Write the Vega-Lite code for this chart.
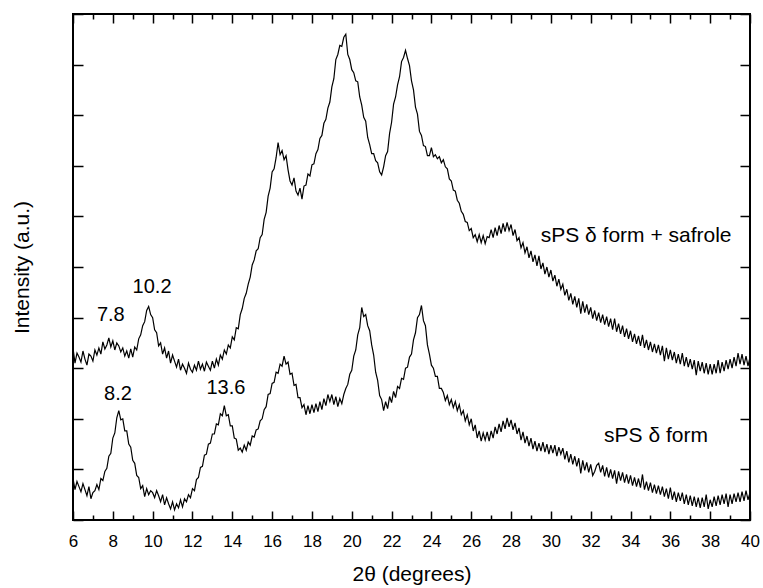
{
"$schema": "https://vega.github.io/schema/vega-lite/v6.json",
"width": 677, "height": 506,
"autosize": "none",
"padding": {"left": 73, "top": 14, "right": 13, "bottom": 68},
"background": "white",
"config": {
  "font": "Liberation Sans",
  "view": {"stroke": "black", "strokeWidth": 2},
  "axis": {"domain": false, "grid": false, "tickColor": "black", "tickWidth": 1.5, "labelColor": "black", "titleColor": "black", "labelFont": "Liberation Sans", "titleFont": "Liberation Sans", "titleFontWeight": "normal"}
},
"data": {"values": [
{"x":6.0,"u":3.40,"l":0.82},{"x":6.1,"u":3.10,"l":0.60},{"x":6.2,"u":3.30,"l":0.76},{"x":6.3,"u":3.22,"l":0.66},{"x":6.4,"u":3.12,"l":0.56},{"x":6.5,"u":3.34,"l":0.72},{"x":6.6,"u":3.18,"l":0.60},{"x":6.7,"u":3.06,"l":0.48},{"x":6.8,"u":3.28,"l":0.66},{"x":6.9,"u":3.24,"l":0.42},
{"x":7.0,"u":3.14,"l":0.54},{"x":7.1,"u":3.36,"l":0.58},{"x":7.2,"u":3.26,"l":0.70},{"x":7.3,"u":3.40,"l":0.60},{"x":7.4,"u":3.28,"l":0.82},{"x":7.5,"u":3.52,"l":0.78},{"x":7.6,"u":3.38,"l":0.96},{"x":7.7,"u":3.46,"l":1.02},{"x":7.8,"u":3.60,"l":1.26},{"x":7.9,"u":3.42,"l":1.32},
{"x":8.0,"u":3.54,"l":1.62},{"x":8.1,"u":3.36,"l":1.72},{"x":8.2,"u":3.50,"l":2.02},{"x":8.3,"u":3.44,"l":2.16},{"x":8.4,"u":3.32,"l":1.98},{"x":8.5,"u":3.40,"l":2.00},{"x":8.6,"u":3.24,"l":1.76},{"x":8.7,"u":3.34,"l":1.76},{"x":8.8,"u":3.20,"l":1.50},{"x":8.9,"u":3.38,"l":1.44},
{"x":9.0,"u":3.22,"l":1.18},{"x":9.1,"u":3.42,"l":1.12},{"x":9.2,"u":3.36,"l":0.88},{"x":9.3,"u":3.58,"l":0.84},{"x":9.4,"u":3.66,"l":0.62},{"x":9.5,"u":3.84,"l":0.68},{"x":9.6,"u":3.92,"l":0.46},{"x":9.7,"u":4.14,"l":0.62},{"x":9.8,"u":4.22,"l":0.50},{"x":9.9,"u":4.06,"l":0.58},
{"x":10.0,"u":4.00,"l":0.54},{"x":10.1,"u":3.76,"l":0.44},{"x":10.2,"u":3.70,"l":0.58},{"x":10.3,"u":3.44,"l":0.48},{"x":10.4,"u":3.50,"l":0.36},{"x":10.5,"u":3.28,"l":0.50},{"x":10.6,"u":3.40,"l":0.30},{"x":10.7,"u":3.20,"l":0.44},{"x":10.8,"u":3.34,"l":0.32},{"x":10.9,"u":3.10,"l":0.22},
{"x":11.0,"u":3.26,"l":0.36},{"x":11.1,"u":3.14,"l":0.20},{"x":11.2,"u":3.02,"l":0.32},{"x":11.3,"u":3.18,"l":0.24},{"x":11.4,"u":2.96,"l":0.40},{"x":11.5,"u":3.08,"l":0.26},{"x":11.6,"u":3.00,"l":0.42},{"x":11.7,"u":2.90,"l":0.36},{"x":11.8,"u":3.10,"l":0.50},{"x":11.9,"u":2.98,"l":0.44},
{"x":12.0,"u":2.92,"l":0.62},{"x":12.1,"u":3.06,"l":0.58},{"x":12.2,"u":2.96,"l":0.80},{"x":12.3,"u":3.14,"l":0.84},{"x":12.4,"u":2.98,"l":1.04},{"x":12.5,"u":3.08,"l":1.06},{"x":12.6,"u":2.94,"l":1.28},{"x":12.7,"u":3.12,"l":1.30},{"x":12.8,"u":3.04,"l":1.50},{"x":12.9,"u":2.96,"l":1.52},
{"x":13.0,"u":3.14,"l":1.70},{"x":13.1,"u":3.00,"l":1.70},{"x":13.2,"u":3.18,"l":1.90},{"x":13.3,"u":3.06,"l":1.88},{"x":13.4,"u":3.26,"l":2.10},{"x":13.5,"u":3.18,"l":2.06},{"x":13.6,"u":3.36,"l":2.26},{"x":13.7,"u":3.28,"l":2.06},{"x":13.8,"u":3.46,"l":2.08},{"x":13.9,"u":3.40,"l":1.86},
{"x":14.0,"u":3.62,"l":1.86},{"x":14.1,"u":3.56,"l":1.62},{"x":14.2,"u":3.80,"l":1.60},{"x":14.3,"u":3.78,"l":1.38},{"x":14.4,"u":4.06,"l":1.42},{"x":14.5,"u":4.18,"l":1.34},{"x":14.6,"u":4.38,"l":1.48},{"x":14.7,"u":4.48,"l":1.38},{"x":14.8,"u":4.66,"l":1.54},{"x":14.9,"u":4.80,"l":1.48},
{"x":15.0,"u":5.04,"l":1.66},{"x":15.1,"u":5.14,"l":1.64},{"x":15.2,"u":5.32,"l":1.78},{"x":15.3,"u":5.36,"l":1.80},{"x":15.4,"u":5.58,"l":1.96},{"x":15.5,"u":5.64,"l":2.00},{"x":15.6,"u":5.94,"l":2.18},{"x":15.7,"u":6.08,"l":2.24},{"x":15.8,"u":6.40,"l":2.48},{"x":15.9,"u":6.56,"l":2.50},
{"x":16.0,"u":6.88,"l":2.70},{"x":16.1,"u":6.94,"l":2.72},{"x":16.2,"u":7.16,"l":2.92},{"x":16.3,"u":7.46,"l":2.90},{"x":16.4,"u":7.22,"l":3.08},{"x":16.5,"u":7.30,"l":3.04},{"x":16.6,"u":7.12,"l":3.24},{"x":16.7,"u":7.20,"l":3.08},{"x":16.8,"u":6.92,"l":3.12},{"x":16.9,"u":6.70,"l":2.88},
{"x":17.0,"u":6.62,"l":2.90},{"x":17.1,"u":6.76,"l":2.66},{"x":17.2,"u":6.50,"l":2.68},{"x":17.3,"u":6.42,"l":2.42},{"x":17.4,"u":6.56,"l":2.42},{"x":17.5,"u":6.34,"l":2.22},{"x":17.6,"u":6.60,"l":2.28},{"x":17.7,"u":6.62,"l":2.08},{"x":17.8,"u":6.84,"l":2.26},{"x":17.9,"u":6.80,"l":2.10},
{"x":18.0,"u":7.02,"l":2.28},{"x":18.1,"u":7.04,"l":2.12},{"x":18.2,"u":7.24,"l":2.30},{"x":18.3,"u":7.32,"l":2.14},{"x":18.4,"u":7.54,"l":2.34},{"x":18.5,"u":7.60,"l":2.18},{"x":18.6,"u":7.84,"l":2.40},{"x":18.7,"u":7.92,"l":2.26},{"x":18.8,"u":8.14,"l":2.48},{"x":18.9,"u":8.26,"l":2.34},
{"x":19.0,"u":8.56,"l":2.48},{"x":19.1,"u":8.72,"l":2.28},{"x":19.2,"u":9.10,"l":2.44},{"x":19.3,"u":9.20,"l":2.24},{"x":19.4,"u":9.38,"l":2.40},{"x":19.5,"u":9.36,"l":2.30},{"x":19.6,"u":9.54,"l":2.48},{"x":19.7,"u":9.60,"l":2.60},{"x":19.8,"u":9.20,"l":2.68},{"x":19.9,"u":9.10,"l":2.88},
{"x":20.0,"u":8.90,"l":2.96},{"x":20.1,"u":8.84,"l":3.24},{"x":20.2,"u":8.68,"l":3.36},{"x":20.3,"u":8.66,"l":3.66},{"x":20.4,"u":8.36,"l":3.80},{"x":20.5,"u":8.20,"l":4.20},{"x":20.6,"u":7.96,"l":4.02},{"x":20.7,"u":7.88,"l":4.06},{"x":20.8,"u":7.56,"l":3.84},{"x":20.9,"u":7.42,"l":3.74},
{"x":21.0,"u":7.24,"l":3.46},{"x":21.1,"u":7.24,"l":3.26},{"x":21.2,"u":7.10,"l":2.92},{"x":21.3,"u":7.06,"l":2.76},{"x":21.4,"u":6.88,"l":2.46},{"x":21.5,"u":6.82,"l":2.38},{"x":21.6,"u":6.98,"l":2.16},{"x":21.7,"u":7.20,"l":2.34},{"x":21.8,"u":7.28,"l":2.20},{"x":21.9,"u":7.64,"l":2.44},
{"x":22.0,"u":7.86,"l":2.32},{"x":22.1,"u":8.22,"l":2.54},{"x":22.2,"u":8.36,"l":2.42},{"x":22.3,"u":8.60,"l":2.64},{"x":22.4,"u":8.76,"l":2.60},{"x":22.5,"u":9.06,"l":2.80},{"x":22.6,"u":9.14,"l":2.78},{"x":22.7,"u":9.28,"l":3.00},{"x":22.8,"u":9.12,"l":3.02},{"x":22.9,"u":8.98,"l":3.22},
{"x":23.0,"u":8.68,"l":3.28},{"x":23.1,"u":8.50,"l":3.56},{"x":23.2,"u":8.16,"l":3.70},{"x":23.3,"u":8.02,"l":4.00},{"x":23.4,"u":7.68,"l":4.06},{"x":23.5,"u":7.60,"l":4.24},{"x":23.6,"u":7.40,"l":3.94},{"x":23.7,"u":7.38,"l":3.84},{"x":23.8,"u":7.20,"l":3.46},{"x":23.9,"u":7.20,"l":3.28},
{"x":24.0,"u":7.36,"l":3.06},{"x":24.1,"u":7.18,"l":3.00},{"x":24.2,"u":7.22,"l":2.84},{"x":24.3,"u":7.14,"l":2.84},{"x":24.4,"u":7.18,"l":2.60},{"x":24.5,"u":7.06,"l":2.60},{"x":24.6,"u":7.12,"l":2.52},{"x":24.7,"u":6.98,"l":2.36},{"x":24.8,"u":6.94,"l":2.46},{"x":24.9,"u":6.74,"l":2.28},
{"x":25.0,"u":6.70,"l":2.38},{"x":25.1,"u":6.52,"l":2.22},{"x":25.2,"u":6.50,"l":2.34},{"x":25.3,"u":6.32,"l":2.16},{"x":25.4,"u":6.26,"l":2.28},{"x":25.5,"u":6.10,"l":2.08},{"x":25.6,"u":6.04,"l":2.16},{"x":25.7,"u":5.90,"l":1.96},{"x":25.8,"u":5.88,"l":2.08},{"x":25.9,"u":5.72,"l":1.88},
{"x":26.0,"u":5.76,"l":2.00},{"x":26.1,"u":5.58,"l":1.76},{"x":26.2,"u":5.64,"l":1.88},{"x":26.3,"u":5.50,"l":1.62},{"x":26.4,"u":5.64,"l":1.76},{"x":26.5,"u":5.48,"l":1.56},{"x":26.6,"u":5.62,"l":1.72},{"x":26.7,"u":5.46,"l":1.58},{"x":26.8,"u":5.60,"l":1.74},{"x":26.9,"u":5.58,"l":1.56},
{"x":27.0,"u":5.74,"l":1.76},{"x":27.1,"u":5.58,"l":1.62},{"x":27.2,"u":5.78,"l":1.84},{"x":27.3,"u":5.62,"l":1.70},{"x":27.4,"u":5.82,"l":1.90},{"x":27.5,"u":5.66,"l":1.74},{"x":27.6,"u":5.86,"l":1.96},{"x":27.7,"u":5.70,"l":1.80},{"x":27.8,"u":5.88,"l":2.02},{"x":27.9,"u":5.72,"l":1.84},
{"x":28.0,"u":5.84,"l":1.98},{"x":28.1,"u":5.62,"l":1.78},{"x":28.2,"u":5.74,"l":1.92},{"x":28.3,"u":5.52,"l":1.70},{"x":28.4,"u":5.58,"l":1.82},{"x":28.5,"u":5.38,"l":1.58},{"x":28.6,"u":5.48,"l":1.74},{"x":28.7,"u":5.28,"l":1.52},{"x":28.8,"u":5.40,"l":1.66},{"x":28.9,"u":5.18,"l":1.46},
{"x":29.0,"u":5.32,"l":1.62},{"x":29.1,"u":5.10,"l":1.40},{"x":29.2,"u":5.24,"l":1.56},{"x":29.3,"u":5.02,"l":1.36},{"x":29.4,"u":5.22,"l":1.52},{"x":29.5,"u":4.96,"l":1.36},{"x":29.6,"u":5.08,"l":1.54},{"x":29.7,"u":4.86,"l":1.34},{"x":29.8,"u":5.00,"l":1.50},{"x":29.9,"u":4.80,"l":1.30},
{"x":30.0,"u":4.94,"l":1.48},{"x":30.1,"u":4.72,"l":1.32},{"x":30.2,"u":4.84,"l":1.48},{"x":30.3,"u":4.62,"l":1.26},{"x":30.4,"u":4.76,"l":1.44},{"x":30.5,"u":4.56,"l":1.30},{"x":30.6,"u":4.66,"l":1.42},{"x":30.7,"u":4.44,"l":1.20},{"x":30.8,"u":4.56,"l":1.36},{"x":30.9,"u":4.34,"l":1.14},
{"x":31.0,"u":4.48,"l":1.30},{"x":31.1,"u":4.26,"l":1.10},{"x":31.2,"u":4.42,"l":1.26},{"x":31.3,"u":4.20,"l":1.06},{"x":31.4,"u":4.38,"l":1.22},{"x":31.5,"u":4.08,"l":0.92},{"x":31.6,"u":4.32,"l":1.18},{"x":31.7,"u":4.10,"l":0.98},{"x":31.8,"u":4.26,"l":1.14},{"x":31.9,"u":4.06,"l":0.94},
{"x":32.0,"u":4.20,"l":1.10},{"x":32.1,"u":3.98,"l":0.88},{"x":32.2,"u":4.14,"l":0.96},{"x":32.3,"u":3.94,"l":1.08},{"x":32.4,"u":4.10,"l":1.12},{"x":32.5,"u":3.90,"l":0.94},{"x":32.6,"u":4.06,"l":1.08},{"x":32.7,"u":3.86,"l":0.86},{"x":32.8,"u":4.02,"l":1.04},{"x":32.9,"u":3.82,"l":0.84},
{"x":33.0,"u":3.98,"l":1.00},{"x":33.1,"u":3.76,"l":0.82},{"x":33.2,"u":3.98,"l":0.98},{"x":33.3,"u":3.72,"l":0.72},{"x":33.4,"u":3.88,"l":0.96},{"x":33.5,"u":3.68,"l":0.78},{"x":33.6,"u":3.84,"l":0.94},{"x":33.7,"u":3.62,"l":0.74},{"x":33.8,"u":3.78,"l":0.90},{"x":33.9,"u":3.58,"l":0.72},
{"x":34.0,"u":3.74,"l":0.88},{"x":34.1,"u":3.52,"l":0.68},{"x":34.2,"u":3.68,"l":0.84},{"x":34.3,"u":3.48,"l":0.66},{"x":34.4,"u":3.64,"l":0.82},{"x":34.5,"u":3.44,"l":0.64},{"x":34.6,"u":3.66,"l":0.90},{"x":34.7,"u":3.40,"l":0.60},{"x":34.8,"u":3.56,"l":0.76},{"x":34.9,"u":3.36,"l":0.58},
{"x":35.0,"u":3.52,"l":0.74},{"x":35.1,"u":3.32,"l":0.54},{"x":35.2,"u":3.48,"l":0.70},{"x":35.3,"u":3.30,"l":0.52},{"x":35.4,"u":3.46,"l":0.68},{"x":35.5,"u":3.26,"l":0.50},{"x":35.6,"u":3.44,"l":0.66},{"x":35.7,"u":3.14,"l":0.46},{"x":35.8,"u":3.40,"l":0.62},{"x":35.9,"u":3.18,"l":0.42},
{"x":36.0,"u":3.36,"l":0.64},{"x":36.1,"u":3.16,"l":0.40},{"x":36.2,"u":3.32,"l":0.56},{"x":36.3,"u":3.10,"l":0.36},{"x":36.4,"u":3.28,"l":0.54},{"x":36.5,"u":3.08,"l":0.38},{"x":36.6,"u":3.30,"l":0.54},{"x":36.7,"u":3.04,"l":0.32},{"x":36.8,"u":3.22,"l":0.50},{"x":36.9,"u":3.02,"l":0.30},
{"x":37.0,"u":3.18,"l":0.48},{"x":37.1,"u":2.98,"l":0.28},{"x":37.2,"u":3.16,"l":0.46},{"x":37.3,"u":2.86,"l":0.26},{"x":37.4,"u":3.14,"l":0.44},{"x":37.5,"u":2.94,"l":0.24},{"x":37.6,"u":3.12,"l":0.44},{"x":37.7,"u":2.90,"l":0.26},{"x":37.8,"u":3.10,"l":0.50},{"x":37.9,"u":2.88,"l":0.22},
{"x":38.0,"u":3.08,"l":0.40},{"x":38.1,"u":2.88,"l":0.26},{"x":38.2,"u":3.08,"l":0.46},{"x":38.3,"u":2.90,"l":0.28},{"x":38.4,"u":3.16,"l":0.48},{"x":38.5,"u":2.90,"l":0.30},{"x":38.6,"u":3.12,"l":0.50},{"x":38.7,"u":2.94,"l":0.32},{"x":38.8,"u":3.16,"l":0.52},{"x":38.9,"u":2.98,"l":0.26},
{"x":39.0,"u":3.18,"l":0.50},{"x":39.1,"u":3.00,"l":0.32},{"x":39.2,"u":3.22,"l":0.52},{"x":39.3,"u":3.04,"l":0.36},{"x":39.4,"u":3.30,"l":0.54},{"x":39.5,"u":3.08,"l":0.36},{"x":39.6,"u":3.28,"l":0.56},{"x":39.7,"u":3.06,"l":0.38},{"x":39.8,"u":3.24,"l":0.58},{"x":39.9,"u":3.04,"l":0.40},
{"x":40.0,"u":3.22,"l":0.54}
]},
"resolve": {"axis": {"x": "independent", "y": "independent"}},
"layer": [
  {
    "mark": {"type": "line", "color": "black", "strokeWidth": 1.2},
    "encoding": {
      "x": {"field": "x", "type": "quantitative", "scale": {"domain": [6, 40], "nice": false, "zero": false},
        "axis": {"orient": "bottom", "values": [6,8,10,12,14,16,18,20,22,24,26,28,30,32,34,36,38,40], "tickSize": -9, "labelPadding": 22, "labelFontSize": 17, "labelFlush": false, "title": "2θ (degrees)", "titleFontSize": 21, "titlePadding": 14}},
      "y": {"field": "u", "type": "quantitative", "scale": {"domain": [0, 10], "nice": false, "zero": false},
        "axis": {"orient": "left", "values": [0,1,2,3,4,5,6,7,8,9,10], "tickSize": -10, "labels": false, "title": "Intensity (a.u.)", "titleFontSize": 21, "titlePadding": 40}}
    }
  },
  {
    "mark": {"type": "line", "color": "black", "strokeWidth": 1.2},
    "encoding": {
      "x": {"field": "x", "type": "quantitative", "scale": {"domain": [6, 40], "nice": false, "zero": false},
        "axis": {"orient": "top", "values": [6,8,10,12,14,16,18,20,22,24,26,28,30,32,34,36,38,40], "tickSize": -9, "labels": false, "title": null}},
      "y": {"field": "l", "type": "quantitative", "scale": {"domain": [0, 10], "nice": false, "zero": false},
        "axis": {"orient": "right", "values": [0,1,2,3,4,5,6,7,8,9,10], "tickSize": -10, "labels": false, "title": null}}
    }
  },
  {
    "data": {"values": [
      {"px": 7.9, "py": 4.05, "t": "7.8"},
      {"px": 9.97, "py": 4.6, "t": "10.2"},
      {"px": 8.26, "py": 2.49, "t": "8.2"},
      {"px": 13.68, "py": 2.61, "t": "13.6"}
    ]},
    "mark": {"type": "text", "fontSize": 20, "color": "black", "align": "center", "baseline": "middle", "font": "Liberation Sans"},
    "encoding": {
      "x": {"field": "px", "type": "quantitative", "scale": {"domain": [6, 40], "nice": false, "zero": false},
        "axis": {"orient": "bottom", "values": [7,9,11,13,15,17,19,21,23,25,27,29,31,33,35,37,39], "tickSize": -5, "labels": false, "title": null}},
      "y": {"field": "py", "type": "quantitative", "scale": {"domain": [0, 10], "nice": false, "zero": false}, "axis": null},
      "text": {"field": "t"}
    }
  },
  {
    "data": {"values": [
      {"px": 34.28, "py": 5.61, "t": "sPS δ form + safrole"},
      {"px": 35.28, "py": 1.66, "t": "sPS δ form"}
    ]},
    "mark": {"type": "text", "fontSize": 21, "color": "black", "align": "center", "baseline": "middle", "font": "Liberation Sans"},
    "encoding": {
      "x": {"field": "px", "type": "quantitative", "scale": {"domain": [6, 40], "nice": false, "zero": false},
        "axis": {"orient": "top", "values": [7,9,11,13,15,17,19,21,23,25,27,29,31,33,35,37,39], "tickSize": -5, "labels": false, "title": null}},
      "y": {"field": "py", "type": "quantitative", "scale": {"domain": [0, 10], "nice": false, "zero": false}, "axis": null},
      "text": {"field": "t"}
    }
  }
]
}
